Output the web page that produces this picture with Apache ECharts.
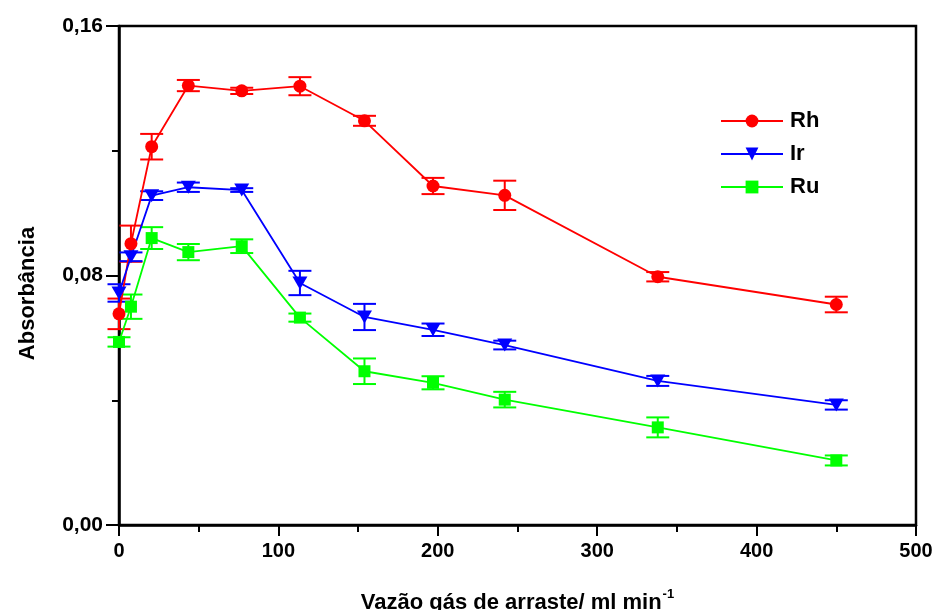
<!DOCTYPE html>
<html>
<head>
<meta charset="utf-8">
<script src="https://cdn.jsdelivr.net/npm/echarts@6/dist/echarts.min.js"></script>
<style>html,body{margin:0;padding:0;background:#fff;}#c{width:934px;height:610px;}</style>
</head>
<body>
<div id="c"></div>
<script>
// ---- data ----
const xVals = [0, 7.5, 20.5, 43.5, 77, 113.5, 154, 197, 242, 338, 450];
const rhVals = [0.0677, 0.0902, 0.1213, 0.1409, 0.1392, 0.1407, 0.1296, 0.1087, 0.1057, 0.0796, 0.0707];
const rhErr  = [0.0049, 0.0058, 0.0041, 0.0018, 0.0010, 0.0029, 0.0016, 0.0026, 0.0047, 0.0015, 0.0025];
const irVals = [0.0744, 0.0860, 0.1056, 0.1083, 0.1074, 0.0776, 0.0667, 0.0626, 0.0577, 0.0462, 0.0385];
const irErr  = [0.0028, 0.0014, 0.0014, 0.0015, 0.0006, 0.0039, 0.0042, 0.0020, 0.0014, 0.0016, 0.0015];
const ruVals = [0.0587, 0.0700, 0.0920, 0.0875, 0.0894, 0.0665, 0.0493, 0.0456, 0.0402, 0.0313, 0.0207];
const ruErr  = [0.0015, 0.0039, 0.0035, 0.0026, 0.0022, 0.0013, 0.0041, 0.0021, 0.0025, 0.0032, 0.0016];
const seriesNames = ['Rh', 'Ir', 'Ru'];
const xTitle = 'Vazão gás de arraste/ ml min';
const xTitleSup = '-1';
const yTitle = 'Absorbância';

const colors = ['#ff0000', '#0000ff', '#00ff00'];
const FONT = 'Liberation Sans, Arial, sans-serif';

function pts(vals) { return xVals.map((x, i) => [x, vals[i]]); }
function errRows(vals, errs) { return xVals.map((x, i) => [x, vals[i] - errs[i], vals[i] + errs[i]]); }

function errSeries(name, rows, color) {
  return {
    type: 'custom',
    name: name,
    data: rows,
    encode: { x: 0, y: [1, 2] },
    z: 1,
    silent: true,
    renderItem: function (params, api) {
      const x = api.value(0);
      const lo = api.coord([x, api.value(1)]);
      const hi = api.coord([x, api.value(2)]);
      const hw = 11.5;
      const st = { stroke: color, lineWidth: 2, fill: null };
      return {
        type: 'group',
        children: [
          { type: 'line', shape: { x1: lo[0], y1: lo[1], x2: hi[0], y2: hi[1] }, style: st },
          { type: 'line', shape: { x1: lo[0] - hw, y1: lo[1], x2: lo[0] + hw, y2: lo[1] }, style: st },
          { type: 'line', shape: { x1: hi[0] - hw, y1: hi[1], x2: hi[0] + hw, y2: hi[1] }, style: st }
        ]
      };
    }
  };
}

function lineSeries(name, vals, color, symbol, size, rotate) {
  return {
    type: 'line',
    name: name,
    data: pts(vals),
    symbol: symbol,
    symbolSize: size,
    symbolRotate: rotate || 0,
    showAllSymbol: true,
    z: 3,
    lineStyle: { color: color, width: 1.8 },
    itemStyle: { color: color, borderWidth: 0 },
    emphasis: { disabled: true }
  };
}

const chart = echarts.init(document.getElementById('c'), null, { renderer: 'canvas' });
const axisCommon = {
  type: 'value',
  axisLine: { show: true, onZero: false, lineStyle: { color: '#000', width: 2.5 } },
  axisTick: { show: true, inside: false, lineStyle: { color: '#000', width: 2 } },
  minorTick: { show: true, splitNumber: 2, lineStyle: { color: '#000', width: 2 } },
  splitLine: { show: false },
  minorSplitLine: { show: false },
  axisLabel: { color: '#000', fontSize: 20, fontWeight: 'bold', fontFamily: FONT }
};

chart.setOption({
  animation: false,
  backgroundColor: '#fff',
  grid: { left: 119, right: 18, top: 26, bottom: 85, show: true, borderColor: '#000', borderWidth: 2.5, backgroundColor: 'transparent', containLabel: false, outerBoundsMode: 'none' },
  xAxis: Object.assign({}, axisCommon, {
    min: 0, max: 500, interval: 100,
    axisTick: Object.assign({}, axisCommon.axisTick, { length: 11 }),
    minorTick: Object.assign({}, axisCommon.minorTick, { length: 7 }),
    axisLabel: Object.assign({}, axisCommon.axisLabel, { margin: 16 }),
    name: '{a|' + xTitle + '}{s|' + xTitleSup + '}',
    nameLocation: 'middle',
    nameGap: 63,
    nameTextStyle: {
      rich: {
        a: { fontSize: 22, fontWeight: 'bold', fontFamily: FONT, color: '#000', verticalAlign: 'bottom', lineHeight: 26 },
        s: { fontSize: 13, fontWeight: 'bold', fontFamily: FONT, color: '#000', verticalAlign: 'top', lineHeight: 26, padding: [0, 0, 10, 1] }
      }
    }
  }),
  yAxis: Object.assign({}, axisCommon, {
    min: 0, max: 0.16, interval: 0.08,
    axisTick: Object.assign({}, axisCommon.axisTick, { length: 13 }),
    minorTick: Object.assign({}, axisCommon.minorTick, { length: 7 }),
    axisLabel: Object.assign({}, axisCommon.axisLabel, {
      margin: 16, fontSize: 21,
      formatter: function (v) { return v.toFixed(2).replace('.', ','); }
    }),
    name: yTitle,
    nameLocation: 'middle',
    nameGap: 80,
    nameTextStyle: { fontSize: 22, fontWeight: 'bold', fontFamily: FONT, color: '#000', padding: [0, 36, 0, 0] }
  }),
  legend: {
    orient: 'vertical',
    left: 715,
    top: 104,
    itemWidth: 62,
    itemHeight: 16,
    itemGap: 9,
    data: seriesNames,
    textStyle: { fontSize: 22, fontWeight: 'bold', fontFamily: FONT, color: '#000', lineHeight: 24, padding: [0, 0, 0, 2] },
    selectedMode: false
  },
  series: [
    errSeries('Rh err', errRows(rhVals, rhErr), colors[0]),
    errSeries('Ir err', errRows(irVals, irErr), colors[1]),
    errSeries('Ru err', errRows(ruVals, ruErr), colors[2]),
    lineSeries(seriesNames[0], rhVals, colors[0], 'circle', 13),
    lineSeries(seriesNames[1], irVals, colors[1], 'triangle', [15, 13], 180),
    lineSeries(seriesNames[2], ruVals, colors[2], 'rect', 12)
  ]
});
</script>
</body>
</html>
